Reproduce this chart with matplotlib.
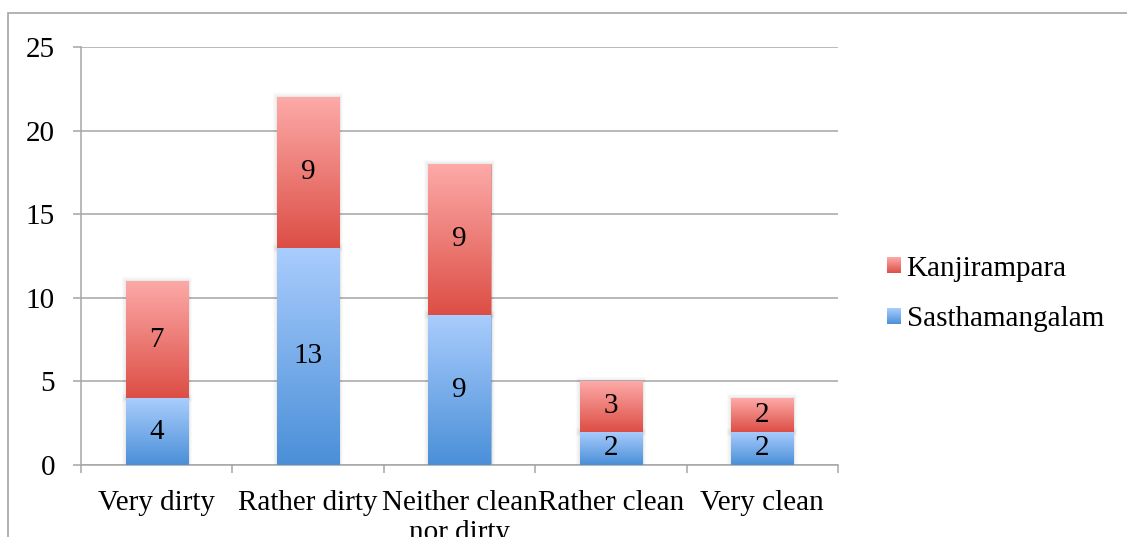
import numpy as np
import matplotlib
matplotlib.use("Agg")
import matplotlib.pyplot as plt
from matplotlib.colors import LinearSegmentedColormap
from matplotlib.patches import Rectangle
from matplotlib.legend_handler import HandlerBase
import matplotlib.patheffects as pe

# Survey responses per category, stacked by locality
categories = ["Very dirty", "Rather dirty", "Neither clean\nnor dirty", "Rather clean", "Very clean"]
sasthamangalam = [4, 13, 9, 2, 2]
kanjirampara = [7, 9, 9, 3, 2]
y_ticks = [0, 5, 10, 15, 20, 25]

plt.rcParams['font.family'] = ['Liberation Serif', 'DejaVu Serif']
FS = 21
GRID = "#a6a6a6"

W, H = 1127, 537
fig = plt.figure(figsize=(W / 100, H / 100), dpi=100)
ax = fig.add_axes([81 / W, 72 / H, (838 - 81) / W, 418 / H])

BLUE = ("#aacdfd", "#4a8fd8")   # (top, bottom)
RED = ("#fdaaa8", "#dc4e45")


def gradient_cmap(top, bottom):
    return LinearSegmentedColormap.from_list("grad", [bottom, top])


def fill_gradient(ax, bars, top, bottom):
    cmap = gradient_cmap(top, bottom)
    grad = np.linspace(0, 1, 256).reshape(-1, 1)
    for b in bars:
        x0, y0 = b.get_x(), b.get_y()
        w, h = b.get_width(), b.get_height()
        im = ax.imshow(grad, cmap=cmap, origin="lower", aspect="auto",
                       extent=(x0, x0 + w, y0, y0 + h), zorder=3,
                       interpolation="bilinear")
        im.set_clip_path(b)


shadow = [pe.Stroke(linewidth=6, foreground=(0, 0, 0, 0.02)),
          pe.Stroke(linewidth=4, foreground=(0, 0, 0, 0.03)),
          pe.Stroke(linewidth=2, foreground=(0, 0, 0, 0.04)),
          pe.Normal()]

x = np.arange(len(categories))
width = 0.41
bars_s = ax.bar(x, sasthamangalam, width, color=BLUE[1], edgecolor="none", zorder=2)
bars_k = ax.bar(x, kanjirampara, width, bottom=sasthamangalam, color=RED[1],
                edgecolor="none", zorder=2)
for b in list(bars_s) + list(bars_k):
    b.set_path_effects(shadow)

fill_gradient(ax, bars_s, *BLUE)
fill_gradient(ax, bars_k, *RED)

for bars in (bars_s, bars_k):
    labels = ax.bar_label(bars, label_type="center", fontsize=FS, color="black")
    for t in labels:
        t.set_zorder(5)

ax.set_xlim(-0.5, len(categories) - 0.5)
ax.set_ylim(0, 25)
ax.set_yticks(y_ticks)
ax.set_xticks(x)
ax.set_xticklabels(categories, fontsize=FS, linespacing=1.2)
ax.set_xticks(np.arange(-0.5, len(categories), 1.0), minor=True)
ax.tick_params(axis="x", which="major", length=0, pad=18)
ax.tick_params(axis="x", which="minor", length=5.8, width=1.1, color=GRID, direction="out")
ax.tick_params(axis="y", length=5.8, width=1.1, color=GRID, labelsize=FS, pad=13)

ax.grid(axis="y", color=GRID, linewidth=1.1, zorder=0)
ax.set_axisbelow(True)
for s in ("top", "right"):
    ax.spines[s].set_visible(False)
for s in ("left", "bottom"):
    ax.spines[s].set_color(GRID)
    ax.spines[s].set_linewidth(1.1)


class GradientHandler(HandlerBase):
    def __init__(self, top, bottom):
        super().__init__()
        self.cmap = gradient_cmap(top, bottom)

    def create_artists(self, legend, orig_handle, xdescent, ydescent,
                       width, height, fontsize, trans):
        n = 16
        arts = []
        for i in range(n):
            arts.append(Rectangle((-xdescent, -ydescent + height * i / n), width,
                                  height / n * 1.05, facecolor=self.cmap((i + 0.5) / n),
                                  edgecolor="none", transform=trans))
        return arts


h_k = Rectangle((0, 0), 1, 1)
h_s = Rectangle((0, 0), 1, 1)
fig.legend([h_k, h_s], ["Kanjirampara", "Sasthamangalam"],
           handler_map={h_k: GradientHandler(*RED), h_s: GradientHandler(*BLUE)},
           loc="center left", bbox_to_anchor=(887 / W, (537 - 294) / H),
           frameon=False, fontsize=FS, handlelength=0.47, handleheight=0.47,
           handletextpad=0.2, labelspacing=0.85, borderpad=0, borderaxespad=0)

# chart border
fig.add_artist(Rectangle((8 / W, -0.05), 1.2, 1 - 13 / H + 0.05, transform=fig.transFigure,
                         fill=False, edgecolor=GRID, linewidth=1.2))

fig.savefig("out.png", dpi=100)
